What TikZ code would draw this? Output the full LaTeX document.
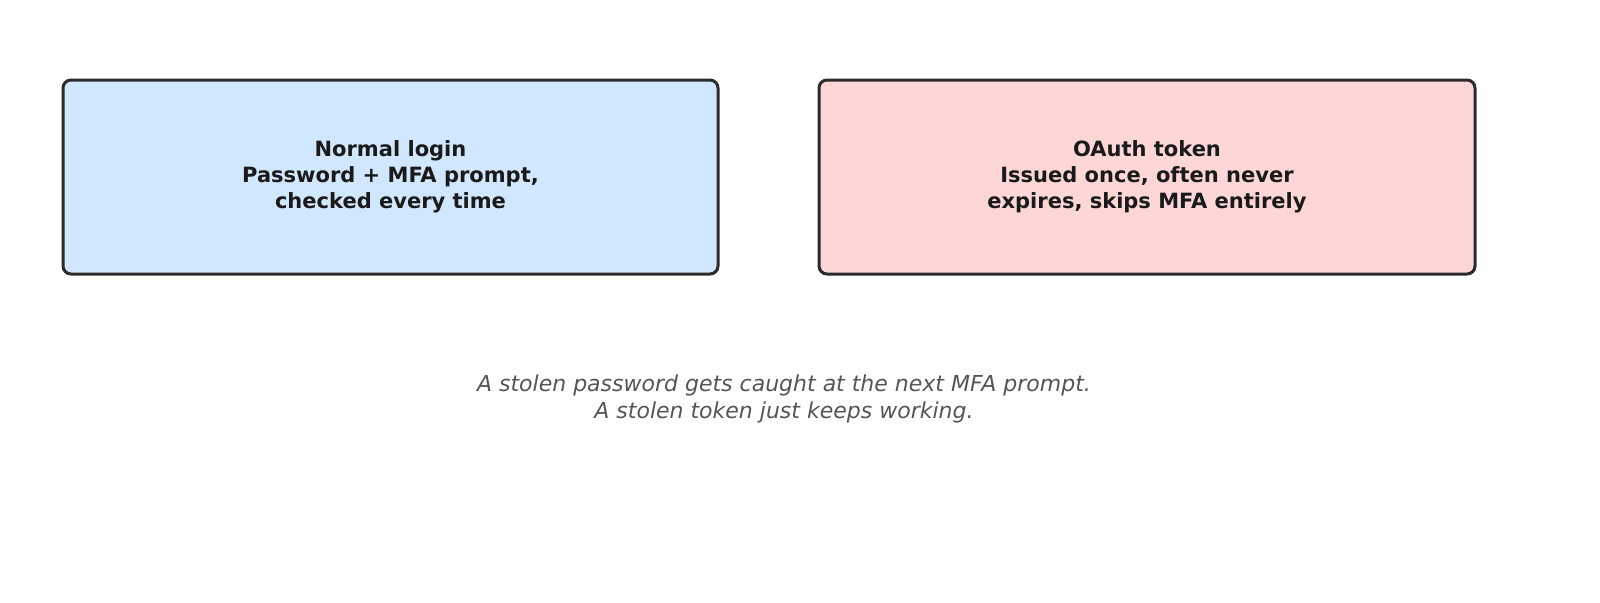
\documentclass[tikz,border=0pt]{standalone}
\usepackage{fontspec}
\setmainfont{DejaVu Sans}
\begin{document}
\begin{tikzpicture}[x=0.5pt,y=-0.5pt,
  box/.style={draw=boxline,line width=1.5pt,rounded corners=4pt,align=center,font=\bfseries\fontsize{10.5}{13}\selectfont,text=textc},
]
\definecolor{boxline}{HTML}{2B2B2B}
\definecolor{textc}{HTML}{1A1A1A}
\definecolor{blue}{HTML}{D1E7FD}
\definecolor{pink}{HTML}{FDD6D6}
\definecolor{grayt}{HTML}{555555}
\useasboundingbox (0,0) rectangle (1600,602);
\draw[box,fill=blue] (63,80) rectangle (718,274);
\node[box,draw=none] (a) at (390.5,177) {Normal login\\Password + MFA prompt,\\checked every time};
\draw[box,fill=pink] (819,80) rectangle (1475,274);
\node[box,draw=none] (b) at (1147,177) {OAuth token\\Issued once, often never\\expires, skips MFA entirely};
\node[align=center,text=grayt,font=\itshape\fontsize{11}{13.5}\selectfont] (c) at (784,399) {A stolen password gets caught at the next MFA prompt.\\A stolen token just keeps working.};
\end{tikzpicture}
\end{document}
